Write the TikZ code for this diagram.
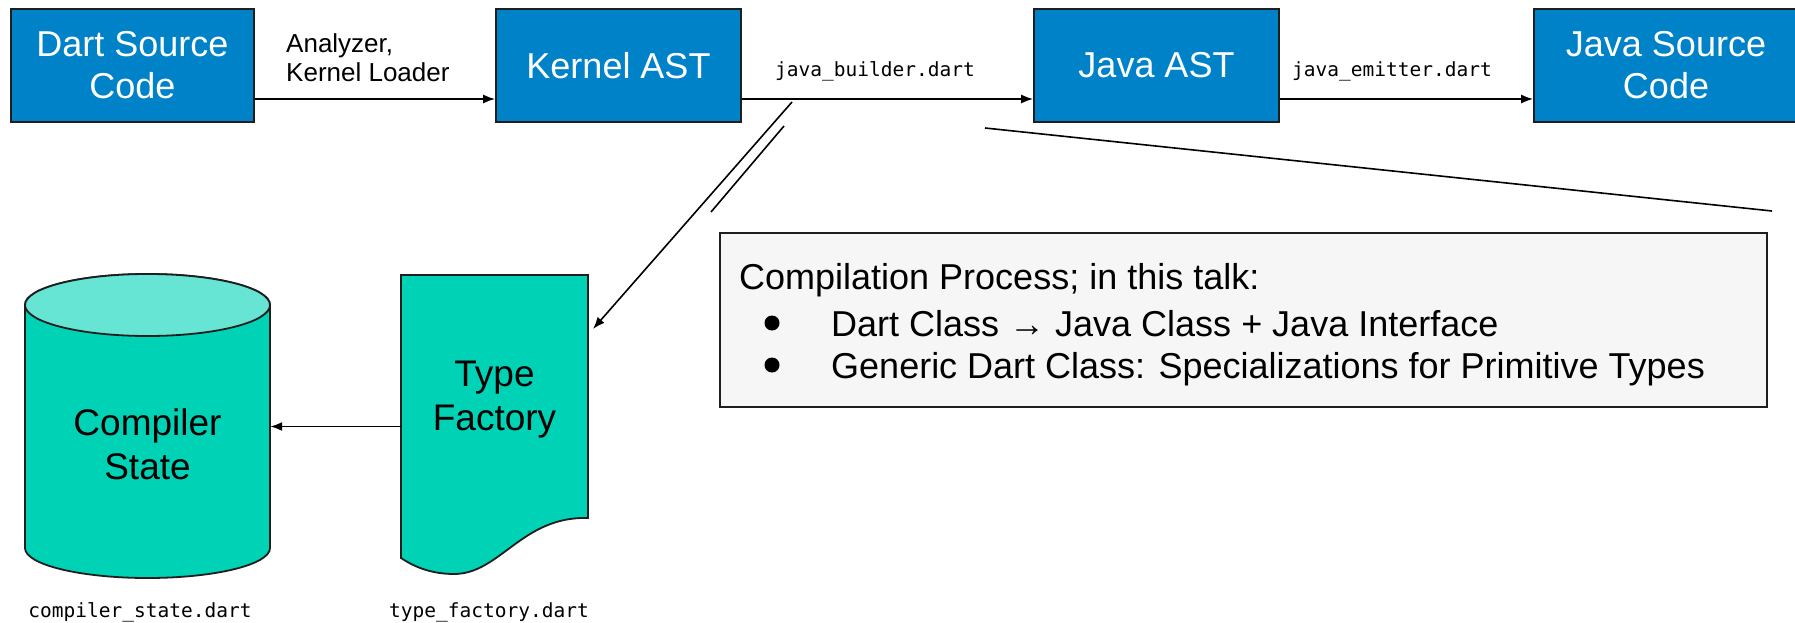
\documentclass[tikz,border=0pt]{standalone}
\usepackage{fontspec}
\setmainfont{Liberation Sans}
\setmonofont{DejaVu Sans Mono}
\usetikzlibrary{arrows.meta}

\definecolor{stageblue}{HTML}{0082C8}
\definecolor{tealfill}{HTML}{00D2B6}
\definecolor{tealtop}{HTML}{66E5D5}
\definecolor{notegray}{HTML}{F6F6F6}
\definecolor{edgeblack}{HTML}{1E1E1E}

\begin{document}
\begin{tikzpicture}[x=1pt,y=-1pt,
  stage/.style={draw=edgeblack, line width=1.8pt, fill=stageblue, text=white,
    minimum width=243pt, minimum height=113pt, inner sep=0pt, align=center,
    font=\fontsize{36}{42}\selectfont},
  arr/.style={-{Latex[length=12pt,width=9pt]}, line width=1.6pt, draw=black},
  plain/.style={line width=1.6pt, draw=black},
  edgelbl/.style={font=\fontsize{19.5}{24}\selectfont\ttfamily, inner sep=0pt},
  flowlbl/.style={font=\fontsize{26}{29}\selectfont, align=left, inner sep=0pt},
  shapetext/.style={font=\fontsize{37}{44}\selectfont, align=center, inner sep=0pt},
  storeshape/.style={draw=edgeblack, line width=1.8pt, fill=tealfill},
  notebox/.style={draw=edgeblack, line width=1.5pt, fill=notegray,
    minimum width=1047pt, minimum height=174pt, inner sep=0pt},
  notetext/.style={font=\fontsize{36}{40}\selectfont, inner sep=0pt, anchor=base west},
  notebullet/.style={circle, fill=black, inner sep=0pt, minimum size=15pt},
]
\useasboundingbox (0,0) rectangle (1795,623);

% pipeline stages
\node[stage] (dsc) at (132.5,65.5) {Dart Source\\Code};
\node[stage, minimum width=245pt] (kast) at (618.5,65.5) {Kernel AST};
\node[stage, minimum width=245pt] (jast) at (1156.5,65.5) {Java AST};
\node[stage, minimum width=264pt] (jsc) at (1666,65.5) {Java Source\\Code};

\draw[arr] ([yshift=-33.5pt]dsc.east) -- ([yshift=-33.5pt]kast.west);
\draw[arr] ([yshift=-33.5pt]kast.east) -- ([yshift=-33.5pt]jast.west);
\draw[arr] ([yshift=-33.5pt]jast.east) -- ([yshift=-33.5pt]jsc.west);

\node[flowlbl, anchor=west] (lbla) at (286,57.5) {Analyzer,\\Kernel Loader};
\node[edgelbl] (lblb) at (875,71) {java\_builder.dart};
\node[edgelbl] (lblc) at (1392,71) {java\_emitter.dart};

% compiler state store
\path[storeshape] (25,305) -- (25,548)
  arc[start angle=180, end angle=0, x radius=122.5, y radius=30]
  -- (270,305)
  arc[start angle=0, end angle=-180, x radius=122.5, y radius=31] -- cycle;
\draw[storeshape, fill=tealtop] (147.5,305) ellipse[x radius=122.5, y radius=31];
\node[minimum width=245pt, minimum height=303pt, inner sep=0pt] (cs) at (147.5,426.5) {};
\node[shapetext] (cstext) at (147.5,444.5) {Compiler\\State};

% type factory document
\path[storeshape] (401,275) -- (588,275) -- (588,518)
  .. controls (522,516) and (500,574) .. (454,574)
  .. controls (430,574) and (413,566) .. (401,558) -- cycle;
\node[shapetext, minimum width=187pt] (tf) at (494.5,400) {Type\\Factory};

\draw[arr] (tf.west |- cs.east) -- (cs.east);

% builder to type factory
\coordinate (b1) at (792,102);
\coordinate (b2) at (593,329);
\draw[arr] (b1) -- (b2);
\coordinate (p1) at (784,126);
\coordinate (p2) at (711,212);
\draw[plain] (p1) -- (p2);
\coordinate (q1) at (985,128);
\coordinate (q2) at (1772,211);
\draw[plain] (q1) -- (q2);

% note
\node[notebox] (note) at (1243.5,320) {};
\node[notetext] (nh) at (739,289) {Compilation Process; in this talk:};
\node[notebullet] (bul1) at (772,323) {};
\node[notetext] (n1) at (831,336) {Dart Class → Java Class + Java Interface};
\node[notebullet] (bul2) at (772,365) {};
\node[notetext] (n2) at (831,378) {Generic Dart Class: Specializations for Primitive Types};

% file labels
\node[edgelbl] (fcs) at (140,612) {compiler\_state.dart};
\node[edgelbl] (ftf) at (489,612) {type\_factory.dart};
\end{tikzpicture}
\end{document}
